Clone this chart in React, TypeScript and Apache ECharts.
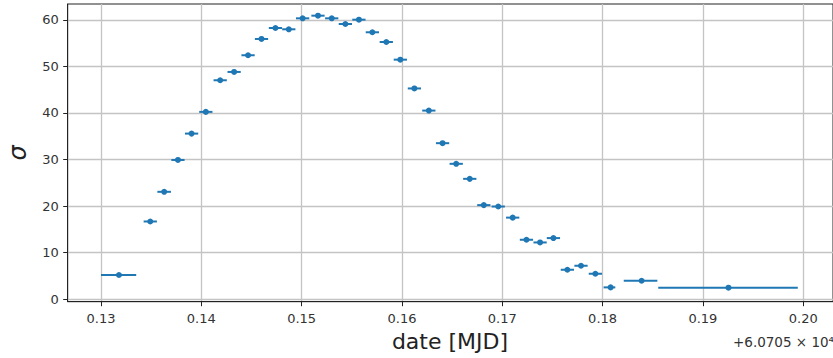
import React, { useEffect, useRef } from "react";
import * as echarts from "echarts";

// x values are MJD - 60705
const mjdOffset = [
  0.13179, 0.13491, 0.1363, 0.13767, 0.13903, 0.14045, 0.14188, 0.14327, 0.14466, 0.146,
  0.14739, 0.14872, 0.1501, 0.15163, 0.153, 0.15436, 0.15571, 0.15705, 0.15844, 0.15984,
  0.16124, 0.16268, 0.16405, 0.16541, 0.16676, 0.16816, 0.1696, 0.17104, 0.17241, 0.17377,
  0.1751, 0.17649, 0.17785, 0.17928, 0.1808, 0.18389, 0.19255,
];
const sigma = [
  5.16, 16.67, 23.05, 29.9, 35.57, 40.24, 47.04, 48.83, 52.42, 55.92,
  58.28, 58.0, 60.36, 60.93, 60.36, 59.14, 60.07, 57.36, 55.27, 51.47,
  45.28, 40.52, 33.51, 29.07, 25.84, 20.19, 19.89, 17.5, 12.74, 12.16,
  13.1, 6.29, 7.15, 5.43, 2.5, 3.93, 2.43,
];
const xErrLow = [
  0.00179, 0.00066, 0.00068, 0.00066, 0.00066, 0.00066, 0.00066, 0.00066, 0.00066, 0.00066,
  0.00066, 0.00066, 0.00066, 0.00066, 0.00066, 0.00066, 0.00066, 0.00066, 0.00066, 0.00066,
  0.00066, 0.00066, 0.00066, 0.00066, 0.00066, 0.00066, 0.00066, 0.00066, 0.00066, 0.00066,
  0.00066, 0.00066, 0.00066, 0.00066, 0.0007, 0.00178, 0.007,
];
const xErrHigh = [
  0.00172, 0.00066, 0.00067, 0.00066, 0.00066, 0.00066, 0.00066, 0.00066, 0.00066, 0.00066,
  0.00066, 0.00066, 0.00066, 0.00066, 0.00066, 0.00066, 0.00066, 0.00066, 0.00066, 0.00066,
  0.00066, 0.00066, 0.00066, 0.00066, 0.00066, 0.00066, 0.00066, 0.00066, 0.00066, 0.00066,
  0.00066, 0.00066, 0.00066, 0.00066, 0.00047, 0.00157, 0.00691,
];
const xTicks = [0.13, 0.14, 0.15, 0.16, 0.17, 0.18, 0.19, 0.2];
const yTicks = [0, 10, 20, 30, 40, 50, 60];
const xLabel = "date [MJD]";
const yLabel = "σ";
const offsetLabel = "+6.0705 × 10⁴";

const FONT = "DejaVu Sans";
const BLUE = "#1f77b4";

export default function App() {
  const ref = useRef<HTMLDivElement>(null);
  useEffect(() => {
    if (!ref.current) return;
    const chart = echarts.init(ref.current, null, { renderer: "svg" });
    const errData = mjdOffset.map((x, i) => [x - xErrLow[i], x + xErrHigh[i], sigma[i]]);
    const ptData = mjdOffset.map((x, i) => [x, sigma[i]]);
    chart.setOption({
      animation: false,
      backgroundColor: "#fff",
      grid: {
        left: 67.7,
        top: 4,
        right: -1,
        bottom: 56.3,
        show: true,
        borderColor: "#222",
        borderWidth: 1,
        backgroundColor: "transparent",
      },
      xAxis: {
        type: "value",
        min: 0.12668,
        max: 0.20297,
        axisLine: { show: true, onZero: false, lineStyle: { color: "#222", width: 1 } },
        axisTick: { show: true, customValues: xTicks, length: 4.5, lineStyle: { color: "#222" } },
        axisLabel: {
          customValues: xTicks,
          formatter: (v: number) => v.toFixed(2),
          fontSize: 13,
          color: "#333",
          margin: 10,
          fontFamily: FONT,
        },
        splitLine: { show: true, lineStyle: { color: "#c4c4c4", width: 1.3 } },
      },
      yAxis: {
        type: "value",
        min: -0.58,
        max: 63.44,
        axisLine: { show: true, onZero: false, lineStyle: { color: "#222", width: 1 } },
        axisTick: { show: true, customValues: yTicks, length: 4.5, lineStyle: { color: "#222" } },
        axisLabel: {
          customValues: yTicks,
          formatter: (v: number) => String(Math.round(v)),
          fontSize: 13,
          color: "#333",
          margin: 9,
          fontFamily: FONT,
        },
        splitLine: { show: true, lineStyle: { color: "#c4c4c4", width: 1.3 } },
      },
      graphic: [
        {
          type: "text",
          x: 450,
          y: 341,
          style: {
            text: xLabel,
            fontSize: 22,
            fontFamily: FONT,
            fill: "#222",
            align: "center",
            verticalAlign: "middle",
          },
        },
        {
          type: "text",
          x: 18,
          y: 153,
          rotation: Math.PI / 2,
          style: {
            text: yLabel,
            fontSize: 24,
            fontStyle: "italic",
            fontFamily: FONT,
            fill: "#222",
            align: "center",
            verticalAlign: "middle",
          },
        },
        {
          type: "text",
          x: 733,
          y: 342,
          style: {
            text: offsetLabel,
            fontSize: 13.5,
            fontFamily: FONT,
            fill: "#333",
            align: "left",
            verticalAlign: "middle",
          },
        },
      ],
      series: [
        {
          type: "custom",
          data: errData,
          encode: { x: [0, 1], y: 2 },
          renderItem: (params: any, api: any) => {
            const p1 = api.coord([api.value(0), api.value(2)]);
            const p2 = api.coord([api.value(1), api.value(2)]);
            return {
              type: "line",
              shape: { x1: p1[0], y1: p1[1], x2: p2[0], y2: p2[1] },
              style: { stroke: BLUE, lineWidth: 2 },
            };
          },
          z: 2,
        },
        {
          type: "scatter",
          data: ptData,
          symbol: "circle",
          symbolSize: 6,
          itemStyle: { color: BLUE, opacity: 1 },
          z: 3,
        },
      ],
    });
    return () => chart.dispose();
  }, []);
  return (
    <div
      ref={ref}
      style={{ position: "fixed", left: 0, top: 0, width: 833, height: 358, background: "#fff" }}
    />
  );
}
